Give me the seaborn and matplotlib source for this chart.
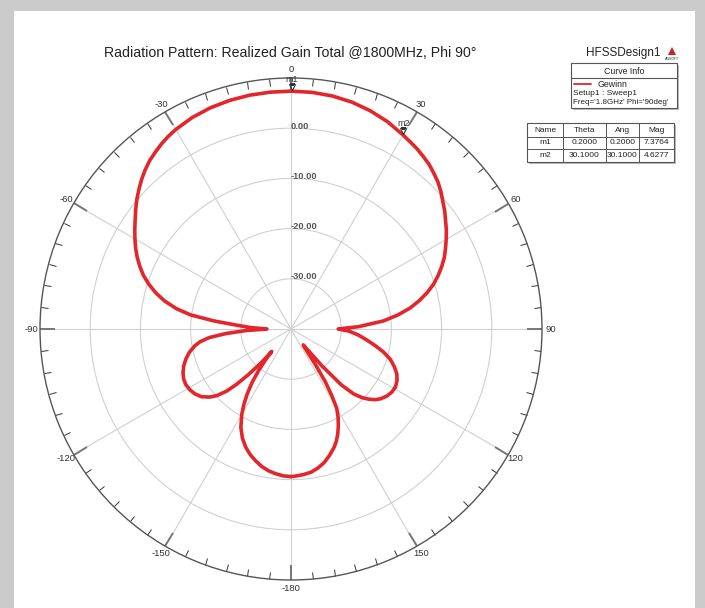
import numpy as np
import matplotlib
matplotlib.use('Agg')
import matplotlib.pyplot as plt
import seaborn as sns
from matplotlib.patches import Rectangle, Polygon
from matplotlib.ticker import FixedLocator
from matplotlib.transforms import offset_copy

# realized gain total (dB) vs theta (deg)
angle_deg = [-180, -177, -174, -171, -168, -165, -162, -159, -156, -153, -150, -148, -146, -144, -142,
             -140.5, -139.5, -138.5, -137, -135.5, -134, -132, -130, -127, -124, -121, -118, -115,
             -112, -109, -106, -103, -100, -98, -96, -94, -92, -90, -88, -86, -84, -82, -80, -77.5,
             -75, -72.5, -70, -67.5, -65, -62.5, -60, -57.5, -55, -52.5, -50, -47.5, -45, -42.5,
             -40, -37.5, -35, -32.5, -30, -25, -20, -15, -10, -5, 0, 5, 10, 15, 20, 25, 30, 32.5,
             35, 37.5, 40, 42.5, 45, 47.5, 50, 52.5, 55, 57.5, 60, 62.5, 65, 67.5, 70, 72.5, 75,
             77.5, 80, 82.5, 85, 88, 90, 92, 95, 98, 101, 104, 107, 110, 113, 116, 119, 122, 125,
             128, 130, 132, 134, 136, 138, 140, 142.4, 144, 145.5, 147, 148.5, 150, 152, 154, 156,
             158, 160, 163, 166, 169, 172, 175, 178, 180]
gain_db = [-10.6, -10.7, -11.0, -11.4, -12.0, -12.8, -13.7, -14.8, -16.2, -18.0, -20.4, -22.3, -24.4, -26.8, -29.6,
           -32.0, -34.1, -31.0, -27.6, -24.6, -22.2, -20.2, -18.9, -17.6, -16.9, -16.5, -16.3, -16.4,
           -16.8, -17.4, -18.2, -19.2, -20.5, -21.7, -23.6, -27.0, -31.0, -35.2, -32.0, -29.2, -24.5, -19.8, -16.9, -14.2,
           -12.1, -10.3, -8.7, -7.4, -6.2, -5.1, -4.1, -3.1, -2.1, -1.0, 0.1, 1.1, 2.1, 3.0,
           3.8, 4.4, 5.0, 5.5, 5.9, 6.5, 6.9, 7.15, 7.3, 7.36, 7.38, 7.33, 7.15, 6.8, 6.25, 5.55, 4.63, 4.2,
           3.8, 3.3, 2.8, 2.1, 1.4, 0.5, -0.5, -1.4, -2.4, -3.3, -4.3, -5.3, -6.3, -7.5, -8.8, -10.2, -11.9,
           -13.8, -15.9, -18.5, -21.5, -26.5, -30.6, -28.5, -26.6, -24.9, -23.0, -21.0, -19.3, -18.1, -17.1, -16.5, -16.2, -16.3, -16.7,
           -17.4, -18.1, -19.1, -20.3, -22.0, -25.0, -30.5, -36.0, -35.0, -31.5, -27.4, -24.5, -21.8, -20.0, -18.5, -17.1,
           -15.9, -14.9, -13.7, -12.6, -11.8, -11.2, -10.9, -10.7, -10.6]

marker_names = ['m1', 'm2']
marker_theta = [0.2, 30.1]
marker_ang = [0.2, 30.1]
marker_mag = [7.3764, 4.6277]

ring_values = [-30, -20, -10, 0]
theta_ticks = list(range(0, 360, 30))
theta_labels = ['0', '30', '60', '90', '120', '150', '-180', '-150', '-120', '-90', '-60', '-30']

sns.set_theme(style='white')
plt.rcParams['font.family'] = ['Liberation Sans', 'DejaVu Sans']

fig = plt.figure(figsize=(7.05, 6.08), dpi=100)
fig.patch.set_facecolor('#cbcbcb')

# page / decoration layer in pixel coords
bg = fig.add_axes([0, 0, 1, 1], zorder=0)
bg.set_xlim(0, 705)
bg.set_ylim(608, 0)
bg.axis('off')
bg.add_patch(Rectangle((14, 11), 681, 600, facecolor='white', edgecolor='none'))

ax = fig.add_axes([40 / 705, 28 / 608, 502 / 705, 502 / 608], projection='polar', zorder=2)
ax.set_facecolor('none')
ax.set_theta_zero_location('N')
ax.set_theta_direction(-1)

sns.lineplot(x=np.radians(angle_deg), y=gain_db, ax=ax, sort=False, estimator=None,
             color='#e3262b', linewidth=2.6)
ax.set_xlabel('')
ax.set_ylabel('')
ax.set_ylim(-40, 10)

ax.set_thetagrids(theta_ticks, theta_labels, fontsize=6.8, color='#333333')
ax.set_rgrids(ring_values, labels=[''] * len(ring_values))
ax.grid(True, color='#d0d0d0', linewidth=0.8)
ax.spines['polar'].set_color('#555555')
ax.spines['polar'].set_linewidth(1.0)
ax.xaxis.set_minor_locator(FixedLocator(np.radians(np.arange(0, 360, 5))))
# in polar axes the outer circle carries the "top" ticks
ax.tick_params(axis='x', which='both', bottom=False, top=True)
ax.tick_params(axis='x', which='minor', direction='in', length=5, width=0.7, color='#333333')
ax.tick_params(axis='x', which='major', direction='in', length=11, width=1.4, color='#777777', pad=-1)
ax.tick_params(axis='y', length=0)

lab_tr = offset_copy(ax.transData, fig=fig, x=0, y=2, units='dots')
for v in ring_values:
    ax.text(0, v, f'{v:.2f}', transform=lab_tr, ha='left', va='center',
            fontsize=6.7, fontweight='bold', color='#555555')

# markers m1 / m2
for name, th, mag in zip(marker_names, marker_theta, marker_mag):
    ax.plot(np.radians(th), mag, marker='v', ms=5, mfc='none', mec='#333333', mew=0.8,
            transform=offset_copy(ax.transData, fig=fig, y=4, units='dots'))
    ax.text(np.radians(th), mag, name, ha='center', va='center', fontsize=6.5, color='#333333',
            transform=offset_copy(ax.transData, fig=fig, y=12, units='dots'))

# titles
fig.text(290 / 705, 1 - 53 / 608, 'Radiation Pattern: Realized Gain Total @1800MHz, Phi 90°',
         ha='center', va='center', fontsize=10.2, color='#222222')
fig.text(623 / 705, 1 - 53 / 608, 'HFSSDesign1', ha='center', va='center', fontsize=8.5, color='#222222')
bg.add_patch(Polygon([[668, 55], [676, 55], [672, 47]], closed=True, facecolor='#d02020', edgecolor='none'))
bg.text(672, 58.5, 'ANSOFT', ha='center', va='center', fontsize=2.5, color='#333333')

# curve info box
bg.add_patch(Rectangle((573, 65), 106, 45, facecolor='#bbbbbb', edgecolor='none'))
bg.add_patch(Rectangle((571, 63), 106, 45, facecolor='white', edgecolor='#555555', linewidth=0.8))
bg.plot([571, 677], [78, 78], color='#555555', linewidth=0.8)
bg.text(624, 71, 'Curve Info', ha='center', va='center', fontsize=6.3, color='#222222')
bg.plot([574, 591], [84, 84], color='#e3262b', linewidth=1.3)
bg.text(597, 84.5, 'Gewinn', ha='left', va='center', fontsize=6.3, color='#222222')
bg.text(573, 93.5, 'Setup1 : Sweep1', ha='left', va='center', fontsize=6.0, color='#222222')
bg.text(573, 102.5, "Freq='1.8GHz' Phi='90deg'", ha='left', va='center', fontsize=5.8, color='#222222')

# marker table
col_edges = [527, 563, 606, 639, 674]
row_edges = [123, 137, 149, 162]
bg.add_patch(Rectangle((529, 125), 147, 39, facecolor='#bbbbbb', edgecolor='none'))
bg.add_patch(Rectangle((527, 123), 147, 39, facecolor='white', edgecolor='#555555', linewidth=0.8))
for xe in col_edges[1:-1]:
    bg.plot([xe, xe], [123, 162], color='#555555', linewidth=0.7)
for ye in row_edges[1:-1]:
    bg.plot([527, 674], [ye, ye], color='#555555', linewidth=0.7)
rows = [['Name', 'Theta', 'Ang', 'Mag']]
for name, th, ang, mag in zip(marker_names, marker_theta, marker_ang, marker_mag):
    rows.append([name, f'{th:.4f}', f'{ang:.4f}', f'{mag:.4f}'])
for i, row in enumerate(rows):
    yc = (row_edges[i] + row_edges[i + 1]) / 2
    for j, cell in enumerate(row):
        xc = (col_edges[j] + col_edges[j + 1]) / 2
        bg.text(xc, yc, cell, ha='center', va='center', fontsize=6, color='#222222')

fig.savefig('out.png', dpi=100, facecolor=fig.get_facecolor())
